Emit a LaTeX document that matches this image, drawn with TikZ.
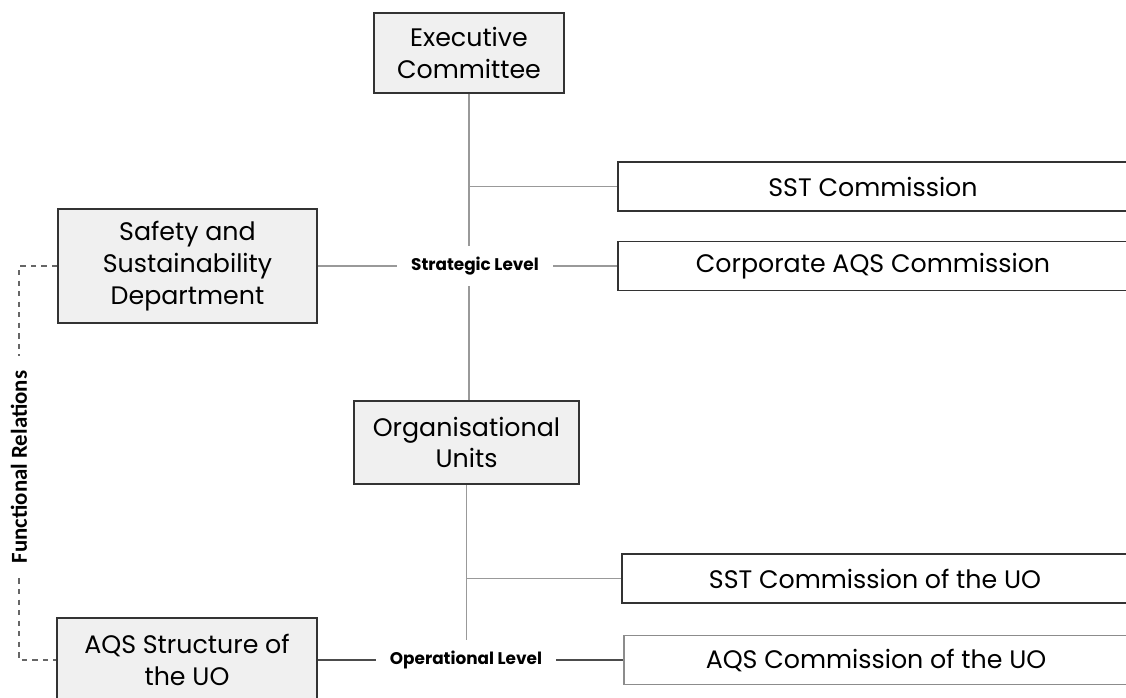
\documentclass[tikz,border=0pt]{standalone}
\usepackage{fontspec}
\setmainfont{Poppins}
\newfontfamily\calfont{Carlito}
\begin{document}
\begin{tikzpicture}[x=0.02cm, y=-0.02cm,
    unit/.style={draw=black!80, fill=black!6, line width=1pt, align=center, inner sep=0pt,
        font=\fontsize{14.4}{18}\selectfont},
    comm/.style={draw=black!80, line width=1pt, inner sep=0pt, minimum width=10.2cm,
        minimum height=0.98cm, font=\fontsize{14.4}{18}\selectfont},
    level/.style={font=\bfseries\fontsize{9.6}{11}\selectfont, inner xsep=0.28cm, inner ysep=0.22cm},
    link/.style={draw=black!40, line width=1.1pt}]
    \useasboundingbox (0,0) rectangle (1126,697);
    \clip (0,0) rectangle (1126,697);
    \node[unit, minimum width=3.8cm, minimum height=1.6cm] (exec) at (469,53) {Executive\\Committee};
    \node[unit, minimum width=5.18cm, minimum height=2.28cm] (safety) at (187.5,266) {Safety and\\Sustainability\\Department};
    \node[unit, minimum width=4.5cm, minimum height=1.66cm] (units) at (466.5,442.5) {Organisational\\Units};
    \node[unit, minimum width=5.2cm, minimum height=1.68cm] (aqsstruct) at (187,660) {AQS Structure of\\the UO};
    \node[comm] (sst) at (873,186.5) {SST Commission};
    \node[comm] (corp) at (873,266) {Corporate AQS Commission};
    \node[comm, minimum width=10.12cm] (sstuo) at (875,578.5) {SST Commission of the UO};
    \node[comm, minimum width=10.08cm, draw=black!45] (aqsuo) at (876,660) {AQS Commission of the UO};
    \node[level] (strat) at (475,266) {Strategic Level};
    \node[level] (oper) at (466,660) {Operational Level};
    \node[rotate=90, inner xsep=0.3cm, font=\calfont\bfseries\fontsize{13}{15}\selectfont] (func) at (19,467) {Functional Relations};
    \draw[link] (exec.south) -- (exec.south |- strat.north);
    \draw[link] (exec.south |- strat.south) -- (exec.south |- units.north);
    \draw[link] (exec.south |- sst.west) -- (sst.west);
    \draw[link] (safety.east) -- (strat.west);
    \draw[link] (strat.east) -- (corp.west);
    \draw[link] (units.south) -- (units.south |- oper.north);
    \draw[link] (units.south |- sstuo.west) -- (sstuo.west);
    \draw[link, draw=black!70] (aqsstruct.east) -- (oper.west);
    \draw[link, draw=black!70] (oper.east) -- (aqsuo.west);
    \draw[dashed, black!60, line width=0.8pt] (safety.west) -| (func.east);
    \draw[dashed, black!60, line width=0.8pt] (func.west) |- (aqsstruct.west);
\end{tikzpicture}
\end{document}
